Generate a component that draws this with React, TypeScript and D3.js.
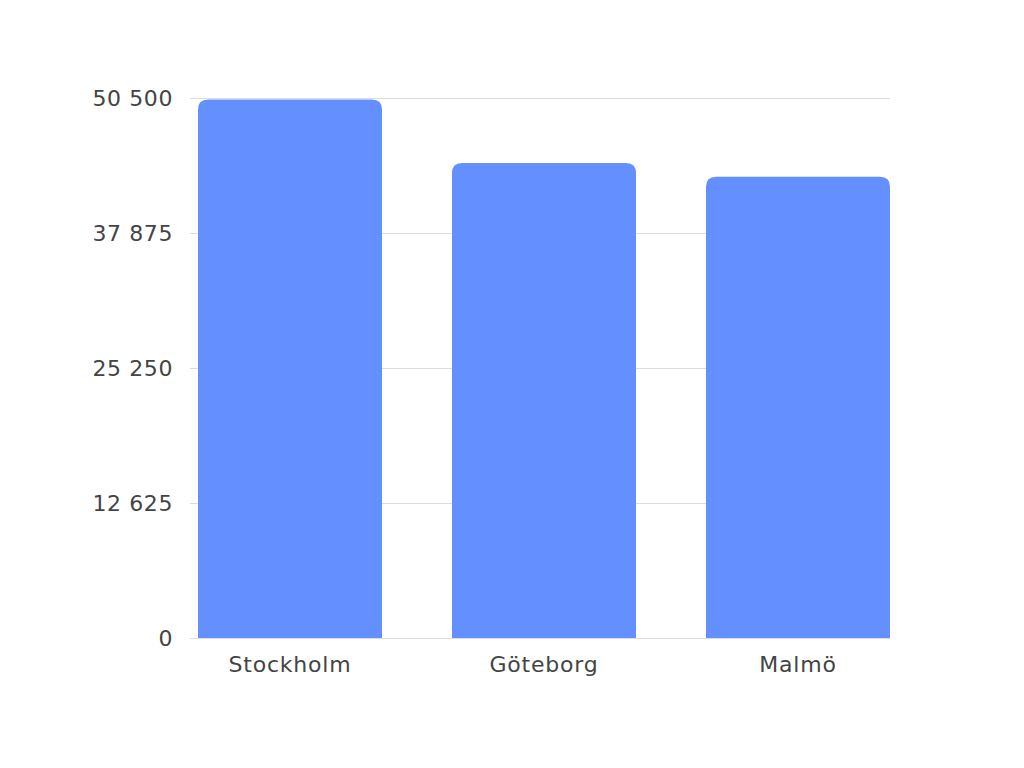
import { useEffect, useRef } from "react";
import * as d3 from "d3";

const categories = ["Stockholm", "Göteborg", "Malmö"];
const values = [50350, 44420, 43140];
const yTicks = [0, 12625, 25250, 37875, 50500];

const WIDTH = 1024;
const HEIGHT = 768;
const FONT = "'DejaVu Sans', sans-serif";

const App = () => {
  const svgRef = useRef<SVGSVGElement | null>(null);

  useEffect(() => {
    const svg = d3.select(svgRef.current);
    svg.selectAll("*").remove();

    const margin = { top: 98, bottom: 130, left: 190, right: 134 };

    const x = d3
      .scaleBand()
      .domain(categories)
      .range([198, WIDTH - margin.right])
      .paddingInner(70 / 254)
      .paddingOuter(0);

    const y = d3
      .scaleLinear()
      .domain([0, 50500])
      .range([HEIGHT - margin.bottom, margin.top]);

    // grid lines
    svg
      .append("g")
      .selectAll("line")
      .data(yTicks)
      .join("line")
      .attr("x1", margin.left)
      .attr("x2", WIDTH - margin.right)
      .attr("y1", (d) => y(d) + 0.5)
      .attr("y2", (d) => y(d) + 0.5)
      .attr("stroke", "#dcdcdc")
      .attr("stroke-width", 1);

    // y labels
    svg
      .append("g")
      .selectAll("text")
      .data(yTicks)
      .join("text")
      .attr("x", 173)
      .attr("y", (d) => y(d))
      .attr("dy", "0.36em")
      .attr("text-anchor", "end")
      .attr("font-family", FONT)
      .attr("font-size", 22)
      .attr("letter-spacing", 0.6)
      .attr("fill", "#444")
      .text((d) => d3.format(",")(d).replace(/,/g, " "));

    // bars with rounded top corners
    const r = 10;
    const bw = x.bandwidth();
    svg
      .append("g")
      .selectAll("path")
      .data(values)
      .join("path")
      .attr("d", (d, i) => {
        const x0 = x(categories[i]) ?? 0;
        const y0 = y(d);
        const yb = y(0);
        return `M${x0},${yb}V${y0 + r}Q${x0},${y0} ${x0 + r},${y0}H${x0 + bw - r}Q${x0 + bw},${y0} ${x0 + bw},${y0 + r}V${yb}Z`;
      })
      .attr("fill", "#6490ff");

    // x labels
    svg
      .append("g")
      .selectAll("text")
      .data(categories)
      .join("text")
      .attr("x", (d) => (x(d) ?? 0) + bw / 2)
      .attr("y", y(0) + 34)
      .attr("text-anchor", "middle")
      .attr("font-family", FONT)
      .attr("font-size", 22)
      .attr("letter-spacing", 0.8)
      .attr("fill", "#444")
      .text((d) => d);
  }, []);

  return (
    <div style={{ position: "absolute", left: 0, top: 0 }}>
      <svg ref={svgRef} width={WIDTH} height={HEIGHT} style={{ background: "white", display: "block" }} />
    </div>
  );
};

export default App;
